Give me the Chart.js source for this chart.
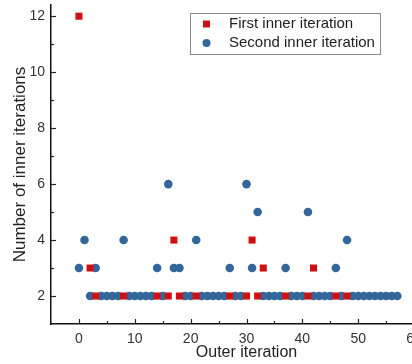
<!DOCTYPE html>
<html>
<head>
<meta charset="utf-8">
<script src="https://cdn.jsdelivr.net/npm/chart.js@4"></script>
<style>
  html, body { margin: 0; padding: 0; overflow: hidden; background: #fff; }
  #wrap { width: 450px; height: 364px; }
</style>
</head>
<body>
<div id="wrap"><canvas id="scatterChart" width="450" height="364"></canvas></div>
<script>
// First inner iteration (red squares)
var firstOuter = [0, 2, 3, 8, 14, 16, 17, 18, 21, 27, 30, 31, 32, 33, 37, 41, 42, 46, 48]
var firstInner = [12, 3, 2, 2, 2, 2, 4, 2, 2, 2, 2, 4, 2, 3, 2, 2, 3, 2, 2]

// Second inner iteration (blue circles), outer iteration 0..57
var secondInner = [3, 4, 2, 3, 2, 2, 2, 2, 4, 2,
                   2, 2, 2, 2, 3, 2, 6, 3, 3, 2,
                   2, 4, 2, 2, 2, 2, 2, 3, 2, 2,
                   6, 3, 5, 2, 2, 2, 2, 3, 2, 2,
                   2, 5, 2, 2, 2, 2, 3, 2, 4, 2,
                   2, 2, 2, 2, 2, 2, 2, 2]

var xTickLabels = [0, 10, 20, 30, 40, 50, 60]
var yTickValues = [1, 2, 3, 4, 5, 6, 7, 8, 9, 10, 11, 12]
var yTickLabels = [2, 4, 6, 8, 10, 12]

var legendLabels = ['First inner iteration', 'Second inner iteration']
var redColor = '#d01010'
var blueColor = '#33669a'
var FONT = "'Liberation Sans', Arial, sans-serif"

//inward tick marks
var tickMarks = {
    id: 'tickMarks',
    afterDraw: function(chart) {
        var ctx = chart.ctx
        var xs = chart.scales.x, ys = chart.scales.y
        var area = chart.chartArea
        ctx.save()
        ctx.strokeStyle = '#222'
        ctx.lineWidth = 1.2
        xs.ticks.forEach(function(t) {
            if (t.value <= xs.min) return
            var px = Math.round(xs.getPixelForValue(t.value)) + 0.5
            var len = xTickLabels.indexOf(t.value) >= 0 ? 5 : 3
            ctx.beginPath()
            ctx.moveTo(px, area.bottom)
            ctx.lineTo(px, area.bottom - len)
            ctx.stroke()
        })
        ys.ticks.forEach(function(t) {
            if (t.value <= ys.min) return
            var py = Math.round(ys.getPixelForValue(t.value)) + 0.5
            var len = yTickLabels.indexOf(t.value) >= 0 ? 5 : 3
            ctx.beginPath()
            ctx.moveTo(area.left, py)
            ctx.lineTo(area.left + len, py)
            ctx.stroke()
        })
        ctx.restore()
    }
}

//legend box inside the plot
var boxLegend = {
    id: 'boxLegend',
    afterDraw: function(chart) {
        var ctx = chart.ctx
        var area = chart.chartArea
        var bx = area.left + 139, by = area.top + 8
        ctx.save()
        ctx.fillStyle = '#fff'
        ctx.fillRect(bx, by, 190, 41)
        ctx.strokeStyle = '#8a8a8a'
        ctx.lineWidth = 1
        ctx.strokeRect(bx + 0.5, by + 0.5, 190, 41)
        ctx.fillStyle = redColor
        ctx.fillRect(bx + 13, by + 7.5, 7, 7)
        ctx.fillStyle = blueColor
        ctx.beginPath()
        ctx.arc(bx + 16.5, by + 30, 4, 0, Math.PI * 2)
        ctx.fill()
        ctx.fillStyle = '#222'
        ctx.font = '15px ' + FONT
        ctx.textBaseline = 'middle'
        ctx.fillText(legendLabels[0], bx + 39, by + 11)
        ctx.fillText(legendLabels[1], bx + 39, by + 30)
        ctx.restore()
    }
}

var ctx = document.getElementById('scatterChart').getContext('2d')
var myChart = new Chart(ctx, {
    type: 'scatter',
    data: {
        datasets: [{
            label: legendLabels[0],
            data: firstOuter.map(function(x, i) { return { x: x, y: firstInner[i] } }),
            pointStyle: 'rect',
            pointRadius: 5,
            backgroundColor: redColor,
            borderWidth: 0
        }, {
            label: legendLabels[1],
            data: secondInner.map(function(y, i) { return { x: i, y: y } }),
            pointStyle: 'circle',
            pointRadius: 4.3,
            backgroundColor: blueColor,
            borderWidth: 0
        }]
    },
    options: {
        responsive: false,
        animation: false,
        layout: { autoPadding: false, padding: { left: 0, top: 5, right: 8, bottom: 0 } },
        plugins: {
            legend: { display: false },
            tooltip: { enabled: false }
        },
        scales: {
            x: {
                type: 'linear',
                min: -5,
                max: 65,
                afterFit: function(scale) {
                    scale.height = 40
                    scale.paddingLeft = 0
                    scale.paddingRight = 0
                },
                grid: { drawOnChartArea: false, drawTicks: false },
                border: { display: true, color: '#111', width: 1.5 },
                ticks: {
                    stepSize: 5,
                    padding: 7,
                    color: '#333',
                    font: { family: FONT, size: 14 },
                    maxRotation: 0,
                    autoSkip: false,
                    callback: function(v) { return xTickLabels.indexOf(v) >= 0 ? String(v) : '' }
                },
                title: {
                    display: true,
                    text: 'Outer iteration',
                    color: '#222',
                    font: { family: FONT, size: 16 },
                    padding: { top: 0, bottom: 2 }
                }
            },
            y: {
                type: 'linear',
                min: 1,
                max: 12.4,
                afterFit: function(scale) {
                    scale.width = 51
                    scale.paddingTop = 0
                    scale.paddingBottom = 0
                },
                afterBuildTicks: function(scale) {
                    scale.ticks = yTickValues.map(function(v) { return { value: v } })
                },
                grid: { drawOnChartArea: false, drawTicks: false },
                border: { display: true, color: '#111', width: 1.5 },
                ticks: {
                    padding: 6,
                    color: '#333',
                    font: { family: FONT, size: 14 },
                    autoSkip: false,
                    callback: function(v) { return yTickLabels.indexOf(v) >= 0 ? String(v) : '' }
                },
                title: {
                    display: true,
                    text: 'Number of inner iterations',
                    color: '#222',
                    font: { family: FONT, size: 17 },
                    padding: { top: 10, bottom: 0 }
                }
            }
        }
    },
    plugins: [tickMarks, boxLegend]
});
</script>
</body>
</html>
